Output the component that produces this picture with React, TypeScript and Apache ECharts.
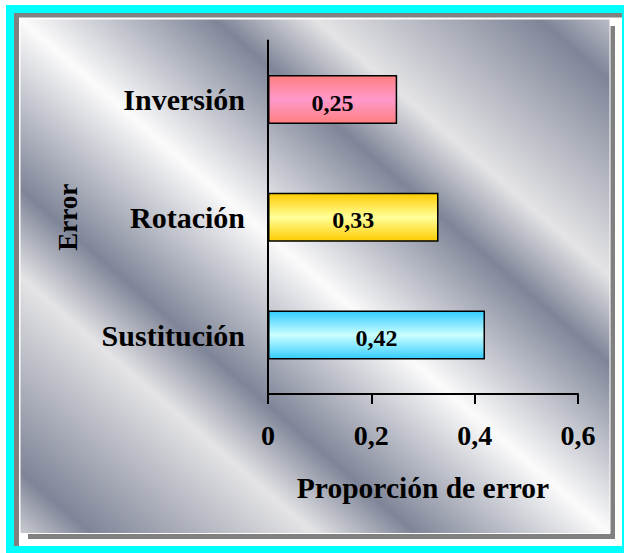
import React, { useEffect, useRef } from "react";
import * as echarts from "echarts";

const categories = ["Sustitución", "Rotación", "Inversión"];
const values = [0.42, 0.33, 0.25];
const barEdgeColors = ["#33ccff", "#ffcc00", "#ff7f7f"];
const barMidColors = ["#ccffff", "#ffff99", "#ff99cc"];
const xMin = 0;
const xMax = 0.6;
const xStep = 0.2;
const xTitle = "Proporción de error";
const yTitle = "Error";

const FONT = "'Liberation Serif', 'Times New Roman', serif";
const fmt = (v: number) => String(Math.round(v * 100) / 100).replace(".", ",");

export default function App() {
  const ref = useRef<HTMLDivElement>(null);
  useEffect(() => {
    if (!ref.current) return;
    const chart = echarts.init(ref.current, undefined, { renderer: "svg" });
    const bgX = 20, bgY = 19, bgW = 590, bgH = 514.5;
    // gradient isolines parallel to the rectangle's main diagonal
    const nx = bgH, ny = -bgW;
    const k = (bgW * nx + -bgH * ny) / (nx * nx + ny * ny);
    const gx0 = bgX, gy0 = bgY + bgH;
    const gx1 = gx0 + nx * k, gy1 = gy0 + ny * k;
    const dark = "#7f8598";
    const bgFill = new echarts.graphic.LinearGradient(
      gx0, gy0, gx1, gy1,
      [
        { offset: 0, color: "#cbccd2" },
        { offset: 0.06, color: dark },
        { offset: 0.25, color: "#e4e4e6" },
        { offset: 0.335, color: dark },
        { offset: 0.5, color: "#fbfbfb" },
        { offset: 0.665, color: dark },
        { offset: 0.75, color: "#e4e4e6" },
        { offset: 0.94, color: dark },
        { offset: 1, color: "#babdc7" },
      ],
      true
    );
    const option: any = {
      animation: false,
      backgroundColor: "#ffffff",
      graphic: [
        { type: "rect", z: -100, silent: true, shape: { x: 6, y: 5, width: 630, height: 560 }, style: { fill: "#00ffff" } },
        { type: "rect", z: -99, silent: true, shape: { x: 14, y: 13, width: 608, height: 533 }, style: { fill: "#ffffff" } },
        { type: "rect", z: -98, silent: true, shape: { x: 14, y: 13, width: 608, height: 4.5 }, style: { fill: "#808080" } },
        { type: "rect", z: -98, silent: true, shape: { x: 14, y: 13, width: 5, height: 533 }, style: { fill: "#808080" } },
        { type: "rect", z: -97, silent: true, shape: { x: 28, y: 26, width: 587, height: 513 }, style: { fill: "#808080" } },
        { type: "rect", z: -96, silent: true, shape: { x: bgX, y: bgY, width: bgW, height: bgH }, style: { fill: bgFill, stroke: "#ffffff", lineWidth: 1 } },
      ],
      grid: { left: 268, top: 40.6, right: 46, bottom: 159, containLabel: false },
      xAxis: {
        type: "value",
        min: xMin,
        max: xMax,
        interval: xStep,
        name: xTitle,
        nameLocation: "middle",
        nameGap: 79,
        nameTextStyle: { fontFamily: FONT, fontWeight: "bold", fontSize: 29.5, color: "#000" },
        axisLine: { show: true, lineStyle: { color: "#000", width: 2 } },
        axisTick: { show: true, length: 10, lineStyle: { color: "#000", width: 2 } },
        splitLine: { show: false },
        axisLabel: { formatter: (v: number) => fmt(v), fontFamily: FONT, fontWeight: "bold", fontSize: 28, color: "#000", margin: 27 },
      },
      yAxis: {
        type: "category",
        data: categories,
        name: yTitle,
        nameLocation: "middle",
        nameGap: 187,
        nameRotate: 90,
        nameTextStyle: { fontFamily: FONT, fontWeight: "bold", fontSize: 27, color: "#000" },
        axisLine: { show: true, lineStyle: { color: "#000", width: 2 } },
        axisTick: { show: false },
        splitLine: { show: false },
        axisLabel: { fontFamily: FONT, fontWeight: "bold", fontSize: 30, color: "#000", margin: 23, padding: [0, 0, 5, 0] },
      },
      series: [
        {
          type: "bar",
          barWidth: 49,
          data: values.map((v, i) => ({
            value: v,
            itemStyle: {
              color: new echarts.graphic.LinearGradient(0, 0, 0, 1, [
                { offset: 0, color: barEdgeColors[i] },
                { offset: 0.5, color: barMidColors[i] },
                { offset: 1, color: barEdgeColors[i] },
              ]),
              borderColor: "#000",
              borderWidth: 1.5,
            },
          })),
          label: {
            show: true,
            position: "inside",
            offset: [0, 3],
            formatter: (p: any) => fmt(p.value),
            fontFamily: FONT,
            fontWeight: "bold",
            fontSize: 24,
            color: "#000",
          },
        },
      ],
    };
    chart.setOption(option);
    return () => chart.dispose();
  }, []);
  return (
    <div
      ref={ref}
      style={{ position: "fixed", left: 0, top: 0, width: 624, height: 553 }}
    />
  );
}
